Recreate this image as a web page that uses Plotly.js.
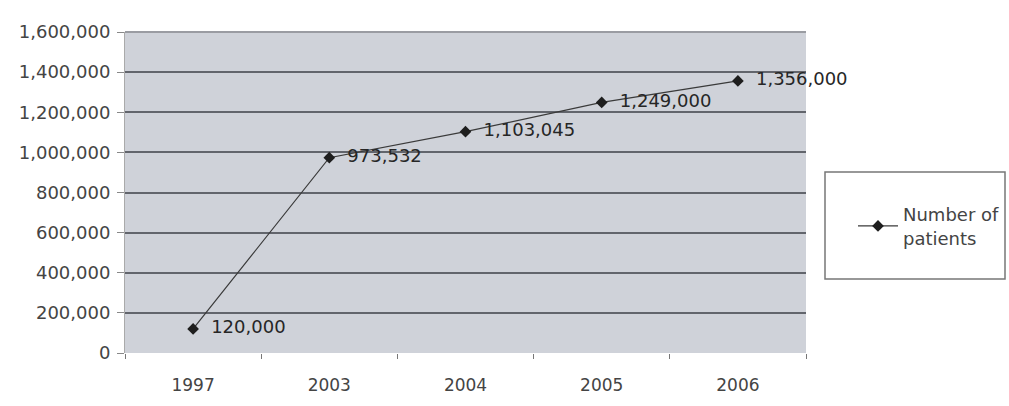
<!DOCTYPE html>
<html>
<head>
<meta charset="utf-8">
<script src="https://cdn.plot.ly/plotly-3.0.1.min.js"></script>
<style>html,body{margin:0;padding:0;background:#fff;}#chart{width:1009px;height:406px;}</style>
</head>
<body>
<div id="chart"></div>
<script>
var years = ['1997', '2003', '2004', '2005', '2006'];
var patients = [120000, 973532, 1103045, 1249000, 1356000];
var labels = ['120,000', '973,532', '1,103,045', '1,249,000', '1,356,000'];
var yTicks = [0, 200000, 400000, 600000, 800000, 1000000, 1200000, 1400000, 1600000];
var yTickText = ['0', '200,000', '400,000', '600,000', '800,000', '1,000,000', '1,200,000', '1,400,000', '1,600,000'];

var FONT = 'DejaVu Sans, Arial, sans-serif';

var trace = {
  x: years,
  y: patients,
  type: 'scatter',
  mode: 'lines+markers+text',
  name: 'Number of<br>patients',
  text: labels.map(function (l) { return '\u00a0\u00a0' + l; }),
  textposition: 'middle right',
  textfont: {family: FONT, size: 18, color: '#262626'},
  line: {color: '#3a3a3a', width: 1.2},
  marker: {symbol: 'diamond', size: 9, color: '#1e1e1e'},
  cliponaxis: false
};

var layout = {
  width: 1009,
  height: 406,
  margin: {l: 125, r: 203, t: 32, b: 53, autoexpand: false},
  paper_bgcolor: '#ffffff',
  plot_bgcolor: '#cfd2d9',
  font: {family: FONT, color: '#444'},
  xaxis: {
    type: 'category',
    range: [-0.5, 4.5],
    tickson: 'boundaries',
    ticks: 'outside',
    ticklen: 5,
    tickcolor: '#777',
    showgrid: false,
    showline: false,
    zeroline: false,
    ticklabelstandoff: 20,
    tickfont: {family: FONT, size: 17, color: '#444'}
  },
  yaxis: {
    range: [0, 1600000],
    tickvals: yTicks,
    ticktext: yTickText,
    ticks: 'outside',
    ticklen: 7,
    tickcolor: '#888',
    ticklabelstandoff: 3,
    showgrid: true,
    gridcolor: '#62656c',
    gridwidth: 2,
    zeroline: false,
    showline: true,
    linecolor: '#aaa',
    linewidth: 1,
    tickfont: {family: FONT, size: 18, color: '#444'}
  },
  showlegend: true,
  legend: {
    xref: 'paper',
    x: (853 - 125) / 681,
    y: (353 - 196) / 321,
    yanchor: 'top',
    itemwidth: 40,
    font: {family: FONT, size: 18, color: '#444'},
    bgcolor: 'rgba(0,0,0,0)',
    borderwidth: 0
  },
  shapes: [{
    type: 'rect', xref: 'paper', yref: 'paper',
    x0: (825 - 125) / 681, x1: (1005 - 125) / 681,
    y0: (353 - 279) / 321, y1: (353 - 172) / 321,
    line: {color: '#777', width: 1.5},
    fillcolor: 'rgba(0,0,0,0)'
  }, {
    type: 'line', xref: 'paper', yref: 'paper',
    x0: 0, x1: 1, y0: 1, y1: 1,
    line: {color: '#9a9ca2', width: 2}
  }]
};

Plotly.newPlot('chart', [trace], layout, {displayModeBar: false, staticPlot: true});
</script>
</body>
</html>
